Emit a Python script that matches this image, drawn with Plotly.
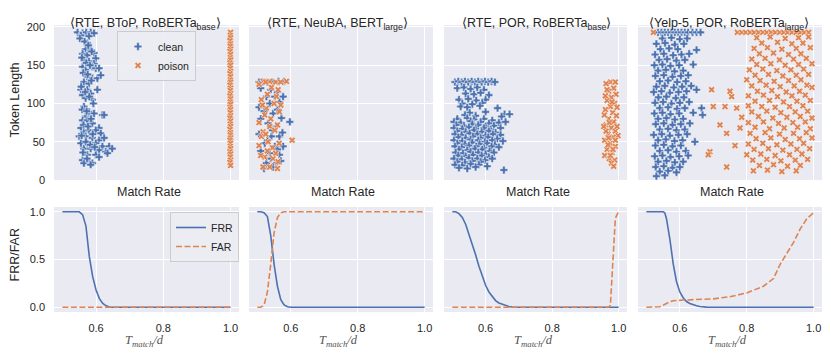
import plotly.graph_objects as go
from plotly.subplots import make_subplots

BLUE = "#4C72B0"
ORANGE = "#DD8452"
FONT = "Liberation Sans, Arial, sans-serif"

titles = ["⟨RTE, BToP, RoBERTa<sub>base</sub>⟩",
          "⟨RTE, NeuBA, BERT<sub>large</sub>⟩",
          "⟨RTE, POR, RoBERTa<sub>base</sub>⟩",
          "⟨Yelp-5, POR, RoBERTa<sub>large</sub>⟩"]

# (match rate, token length)
p1_clean = [(0.545, 193), (0.560, 192), (0.571, 193), (0.584, 193), (0.594, 192), (0.555, 189), (0.579, 188),
            (0.574, 179), (0.569, 171), (0.584, 170), (0.594, 166), (0.560, 165), (0.574, 163), (0.599, 159),
            (0.564, 157), (0.579, 155), (0.594, 152), (0.560, 148), (0.589, 148), (0.569, 144), (0.599, 146),
            (0.609, 146), (0.574, 135), (0.589, 133), (0.604, 133), (0.614, 137), (0.564, 128), (0.579, 126),
            (0.555, 118), (0.574, 118), (0.604, 118), (0.560, 111), (0.584, 113), (0.569, 107), (0.589, 105),
            (0.564, 96), (0.579, 89), (0.594, 87), (0.569, 83), (0.560, 78), (0.619, 85), (0.624, 85),
            (0.574, 78), (0.589, 74), (0.609, 68), (0.555, 68), (0.564, 63), (0.579, 65), (0.599, 65),
            (0.614, 61), (0.550, 57), (0.569, 57), (0.589, 55), (0.609, 52), (0.624, 55), (0.555, 48),
            (0.574, 48), (0.599, 48), (0.619, 44), (0.639, 44), (0.648, 41), (0.564, 41), (0.584, 41),
            (0.609, 39), (0.629, 37), (0.634, 35), (0.574, 33), (0.599, 33), (0.560, 26), (0.579, 24),
            (0.589, 22), (0.609, 30), (0.564, 22), (0.584, 20), (0.552, 185), (0.566, 181), (0.577, 176),
            (0.587, 168), (0.558, 160), (0.571, 153), (0.582, 150), (0.562, 140), (0.575, 138), (0.586, 130),
            (0.556, 122), (0.568, 115), (0.580, 109), (0.592, 100), (0.559, 92), (0.572, 90), (0.585, 80),
            (0.563, 72), (0.576, 70), (0.590, 60), (0.557, 58), (0.570, 50), (0.583, 46), (0.596, 43),
            (0.561, 36), (0.573, 28)]
p1_poison = [(1.0, 193), (0.999, 189), (1.0, 186), (0.998, 182), (1.0, 178), (0.999, 175), (1.0, 171),
             (0.998, 168), (1.0, 164), (0.999, 160), (1.0, 157), (0.998, 153), (1.0, 150), (0.999, 146),
             (1.0, 142), (0.998, 139), (1.0, 135), (0.999, 131), (1.0, 128), (0.998, 124), (1.0, 120),
             (0.999, 117), (1.0, 113), (0.998, 110), (1.0, 106), (0.999, 102), (1.0, 99), (0.998, 95),
             (1.0, 92), (0.999, 88), (1.0, 84), (0.998, 81), (1.0, 77), (0.999, 73), (1.0, 70),
             (0.998, 66), (1.0, 62), (0.999, 59), (1.0, 55), (0.998, 52), (1.0, 48), (0.999, 44),
             (1.0, 41), (0.998, 37), (1.0, 34), (0.999, 30), (1.0, 26), (0.998, 23), (1.0, 19)]

p2_clean = [(0.563, 129), (0.580, 129), (0.527, 109), (0.552, 109), (0.577, 109), (0.537, 100), (0.566, 102),
            (0.547, 87), (0.572, 81), (0.597, 76), (0.532, 74), (0.557, 70), (0.542, 57), (0.566, 57),
            (0.522, 48), (0.552, 44), (0.577, 44), (0.537, 35), (0.566, 33), (0.527, 22), (0.557, 22),
            (0.547, 17), (0.505, 128), (0.515, 128), (0.530, 128), (0.545, 128), (0.510, 120), (0.540, 118),
            (0.560, 115), (0.505, 95), (0.520, 90), (0.560, 92), (0.510, 80), (0.545, 65), (0.575, 62),
            (0.505, 60), (0.530, 52), (0.560, 40), (0.510, 38), (0.540, 28), (0.570, 25), (0.520, 15)]
p2_poison = [(0.517, 129), (0.537, 129), (0.587, 129), (0.542, 121), (0.562, 118), (0.512, 105), (0.557, 109),
             (0.527, 94), (0.522, 85), (0.566, 89), (0.537, 70), (0.517, 63), (0.552, 65), (0.512, 57),
             (0.604, 52), (0.532, 50), (0.522, 30), (0.547, 28), (0.517, 17), (0.537, 17), (0.562, 24),
             (0.505, 125), (0.525, 128), (0.555, 128), (0.570, 128), (0.530, 112), (0.550, 100), (0.515, 98),
             (0.570, 98), (0.540, 80), (0.505, 75), (0.560, 72), (0.525, 60), (0.505, 45), (0.545, 42),
             (0.565, 48), (0.510, 32), (0.530, 38), (0.555, 35), (0.560, 15)]

p3_clean = [(0.508, 128), (0.518, 129), (0.528, 128), (0.538, 129), (0.548, 128), (0.558, 129), (0.568, 128),
            (0.578, 129), (0.588, 128), (0.598, 129), (0.608, 128), (0.618, 129), (0.628, 128),
            (0.515, 120), (0.535, 121), (0.555, 119), (0.575, 121), (0.595, 118), (0.540, 113), (0.565, 112),
            (0.585, 114), (0.610, 111), (0.520, 105), (0.548, 106), (0.572, 104), (0.600, 105), (0.530, 100),
            (0.560, 99), (0.590, 101), (0.525, 96), (0.545, 95), (0.583, 97), (0.636, 94), (0.552, 88),
            (0.600, 89), (0.538, 85), (0.570, 84), (0.657, 86), (0.672, 86), (0.648, 83), (0.515, 80),
            (0.545, 81), (0.565, 79), (0.595, 80), (0.620, 78), (0.505, 76), (0.525, 75), (0.555, 77),
            (0.585, 76), (0.610, 74), (0.640, 75), (0.660, 76), (0.512, 72), (0.535, 71), (0.560, 73),
            (0.578, 72), (0.600, 70), (0.625, 71), (0.505, 68), (0.530, 67), (0.550, 69), (0.570, 67),
            (0.595, 68), (0.615, 66), (0.645, 68), (0.515, 64), (0.540, 63), (0.565, 65), (0.588, 63),
            (0.610, 64), (0.630, 62), (0.508, 60), (0.528, 59), (0.552, 61), (0.575, 60), (0.600, 58),
            (0.622, 60), (0.645, 59), (0.518, 56), (0.540, 55), (0.562, 57), (0.585, 55), (0.608, 56),
            (0.635, 54), (0.505, 52), (0.530, 51), (0.555, 53), (0.578, 52), (0.598, 50), (0.620, 52),
            (0.652, 51), (0.515, 48), (0.538, 47), (0.560, 49), (0.582, 47), (0.605, 48), (0.628, 46),
            (0.508, 44), (0.528, 43), (0.550, 45), (0.572, 44), (0.595, 42), (0.618, 44), (0.640, 43),
            (0.520, 40), (0.545, 39), (0.568, 41), (0.590, 40), (0.612, 38), (0.510, 36), (0.532, 35),
            (0.555, 37), (0.578, 36), (0.600, 34), (0.625, 36), (0.518, 32), (0.540, 31), (0.562, 33),
            (0.588, 32), (0.610, 30), (0.505, 28), (0.528, 27), (0.550, 29), (0.575, 28), (0.598, 26),
            (0.620, 28), (0.515, 24), (0.538, 23), (0.560, 25), (0.585, 24), (0.508, 20), (0.530, 19),
            (0.555, 21), (0.580, 20), (0.605, 18), (0.520, 16), (0.545, 15), (0.570, 17), (0.655, 13)]
p3_poison = [(0.975, 128), (0.990, 128), (0.962, 126), (0.985, 120), (0.970, 116), (0.992, 112), (0.978, 108),
             (0.965, 104), (0.988, 100), (0.975, 96), (0.960, 92), (0.982, 88), (0.993, 84), (0.970, 80),
             (0.985, 76), (0.962, 72), (0.978, 68), (0.990, 64), (0.998, 58), (0.968, 60), (0.983, 56),
             (0.958, 52), (0.975, 48), (0.990, 44), (0.965, 40), (0.980, 36), (0.958, 32), (0.972, 28),
             (0.988, 26), (0.978, 22), (0.985, 18), (0.960, 110), (0.995, 95), (0.957, 85), (0.972, 75),
             (0.962, 64), (0.990, 52), (0.968, 46), (0.983, 40), (0.975, 32), (0.965, 118), (0.980, 102),
             (0.955, 70), (0.995, 70), (0.970, 55)]

p4_clean = [(0.535, 193), (0.545, 193), (0.555, 193), (0.565, 193), (0.575, 193), (0.585, 193), (0.595, 193),
            (0.605, 193), (0.615, 193), (0.625, 193), (0.638, 193), (0.650, 193), (0.662, 193),
            (0.548, 185), (0.575, 186), (0.600, 184), (0.622, 185), (0.530, 178), (0.556, 179), (0.585, 177),
            (0.612, 178), (0.542, 171), (0.568, 172), (0.594, 171), (0.650, 170), (0.526, 164), (0.552, 165),
            (0.580, 163), (0.605, 164), (0.628, 165), (0.538, 157), (0.562, 158), (0.590, 156), (0.615, 157),
            (0.524, 150), (0.548, 151), (0.572, 149), (0.598, 150), (0.640, 151), (0.535, 143), (0.558, 144),
            (0.584, 142), (0.610, 143), (0.527, 136), (0.552, 137), (0.578, 135), (0.603, 136), (0.625, 137),
            (0.540, 129), (0.565, 130), (0.592, 128), (0.618, 129), (0.530, 122), (0.555, 123), (0.582, 121),
            (0.607, 122), (0.634, 123), (0.650, 118), (0.522, 115), (0.545, 116), (0.570, 114), (0.596, 115),
            (0.620, 116), (0.536, 108), (0.560, 109), (0.588, 107), (0.612, 108), (0.526, 101), (0.550, 102),
            (0.575, 100), (0.600, 101), (0.628, 102), (0.540, 94), (0.565, 95), (0.592, 93), (0.615, 94),
            (0.665, 94), (0.524, 87), (0.548, 88), (0.572, 86), (0.598, 87), (0.640, 88), (0.668, 85),
            (0.535, 80), (0.560, 81), (0.585, 79), (0.610, 80), (0.528, 73), (0.552, 74), (0.578, 72),
            (0.603, 73), (0.630, 74), (0.540, 66), (0.565, 67), (0.590, 65), (0.615, 66), (0.522, 59),
            (0.546, 60), (0.570, 58), (0.596, 59), (0.622, 60), (0.535, 52), (0.558, 53), (0.584, 51),
            (0.608, 52), (0.645, 50), (0.527, 45), (0.552, 46), (0.578, 44), (0.603, 45), (0.540, 38),
            (0.565, 39), (0.590, 37), (0.618, 38), (0.525, 31), (0.548, 32), (0.572, 30), (0.598, 31),
            (0.625, 32), (0.535, 24), (0.560, 25), (0.585, 23), (0.610, 24), (0.528, 17), (0.552, 18),
            (0.578, 16), (0.600, 17), (0.540, 11), (0.565, 12), (0.590, 10), (0.530, 5), (0.555, 6)]
p4_poison = [(0.521, 193), (0.772, 193), (0.785, 193), (0.797, 193), (0.810, 193), (0.822, 193), (0.835, 193),
             (0.848, 193), (0.860, 193), (0.873, 193), (0.885, 193), (0.898, 193), (0.910, 193), (0.922, 193),
             (0.935, 193), (0.948, 193), (0.960, 193), (0.972, 193), (0.985, 193),
             (0.830, 186), (0.870, 187), (0.915, 185), (0.955, 186), (0.985, 187), (0.845, 179), (0.892, 180),
             (0.935, 178), (0.968, 179), (0.822, 172), (0.862, 173), (0.905, 171), (0.948, 172), (0.990, 173),
             (0.838, 165), (0.880, 166), (0.925, 164), (0.962, 165), (0.815, 158), (0.855, 159), (0.898, 157),
             (0.940, 158), (0.978, 159), (0.830, 151), (0.872, 152), (0.915, 150), (0.955, 151), (0.995, 152),
             (0.808, 144), (0.848, 145), (0.890, 143), (0.932, 144), (0.970, 145), (0.825, 137), (0.865, 138),
             (0.908, 136), (0.948, 137), (0.985, 138), (0.800, 131), (0.840, 130), (0.882, 129), (0.925, 130),
             (0.962, 131), (0.815, 123), (0.858, 124), (0.900, 122), (0.942, 123), (0.980, 124), (0.995, 121),
             (0.695, 118), (0.750, 116), (0.832, 116), (0.875, 117), (0.918, 115), (0.958, 116), (0.755, 109),
             (0.805, 110), (0.850, 111), (0.892, 109), (0.935, 110), (0.975, 111), (0.825, 103), (0.868, 104),
             (0.910, 102), (0.950, 103), (0.990, 104), (0.700, 96), (0.735, 96), (0.770, 94), (0.805, 97),
             (0.845, 96), (0.885, 95), (0.928, 96), (0.968, 97), (0.815, 89), (0.860, 90), (0.902, 88),
             (0.945, 89), (0.982, 90), (0.785, 82), (0.835, 83), (0.878, 81), (0.920, 82), (0.960, 83),
             (0.995, 81), (0.805, 75), (0.850, 76), (0.895, 74), (0.938, 75), (0.975, 76), (0.720, 72),
             (0.780, 68), (0.825, 69), (0.868, 67), (0.912, 68), (0.952, 69), (0.990, 67), (0.740, 61),
             (0.810, 61), (0.855, 62), (0.898, 60), (0.940, 61), (0.978, 62), (0.828, 54), (0.872, 55),
             (0.915, 53), (0.958, 54), (0.995, 55), (0.765, 45), (0.805, 47), (0.848, 48), (0.890, 46),
             (0.932, 47), (0.970, 48), (0.822, 40), (0.865, 41), (0.908, 39), (0.950, 40), (0.988, 41),
             (0.690, 37), (0.685, 33), (0.800, 33), (0.842, 34), (0.885, 32), (0.928, 33), (0.965, 34),
             (0.818, 26), (0.860, 27), (0.902, 25), (0.945, 26), (0.982, 27), (0.838, 19), (0.880, 20),
             (0.922, 18), (0.960, 19), (0.740, 17), (0.820, 12), (0.862, 13), (0.905, 11), (0.948, 12)]

# FRR / FAR curves against T_match / d
t1 = [0.50, 0.51, 0.52, 0.53, 0.54, 0.55, 0.56, 0.57, 0.58, 0.59, 0.60, 0.61, 0.62, 0.63, 0.64, 0.65,
      0.70, 0.80, 0.90, 1.00]
frr1 = [1.0, 1.0, 1.0, 1.0, 1.0, 1.0, 0.97, 0.85, 0.53, 0.32, 0.18, 0.09, 0.04, 0.015, 0.003, 0.0,
        0.0, 0.0, 0.0, 0.0]
far1 = [0.0, 0.0, 0.0, 0.0, 0.0, 0.0, 0.0, 0.0, 0.0, 0.0, 0.0, 0.0, 0.0, 0.0, 0.0, 0.0,
        0.0, 0.0, 0.0, 0.0]

t2 = [0.50, 0.51, 0.52, 0.53, 0.54, 0.55, 0.56, 0.57, 0.58, 0.59, 0.60, 0.70, 0.80, 0.90, 1.00]
frr2 = [1.0, 1.0, 0.99, 0.95, 0.75, 0.45, 0.22, 0.08, 0.025, 0.005, 0.0, 0.0, 0.0, 0.0, 0.0]
far2 = [0.0, 0.0, 0.02, 0.16, 0.45, 0.78, 0.94, 0.99, 1.0, 1.0, 1.0, 1.0, 1.0, 1.0, 1.0]

t3 = [0.50, 0.51, 0.52, 0.53, 0.54, 0.55, 0.56, 0.57, 0.58, 0.59, 0.60, 0.61, 0.62, 0.63, 0.64, 0.65,
      0.66, 0.67, 0.68, 0.70, 0.80, 0.90, 0.96, 0.97, 0.975, 0.98, 0.985, 0.99, 0.995, 1.00]
frr3 = [1.0, 1.0, 0.98, 0.94, 0.87, 0.77, 0.66, 0.55, 0.43, 0.32, 0.23, 0.16, 0.11, 0.07, 0.045, 0.03,
        0.015, 0.007, 0.002, 0.0, 0.0, 0.0, 0.0, 0.0, 0.0, 0.0, 0.0, 0.0, 0.0, 0.0]
far3 = [0.0, 0.0, 0.0, 0.0, 0.0, 0.0, 0.0, 0.0, 0.0, 0.0, 0.0, 0.0, 0.0, 0.0, 0.0, 0.0,
        0.0, 0.0, 0.0, 0.0, 0.0, 0.0, 0.0, 0.0, 0.02, 0.3, 0.7, 0.93, 0.97, 1.0]

t4 = [0.50, 0.53, 0.54, 0.55, 0.555, 0.56, 0.57, 0.58, 0.59, 0.60, 0.61, 0.62, 0.63, 0.64, 0.65, 0.66,
      0.67, 0.68, 0.70, 0.75, 0.80, 0.85, 0.88, 0.90, 0.92, 0.94, 0.96, 0.98, 1.00]
frr4 = [1.0, 1.0, 1.0, 1.0, 0.99, 0.93, 0.72, 0.46, 0.27, 0.16, 0.10, 0.06, 0.04, 0.025, 0.015, 0.008,
        0.004, 0.001, 0.0, 0.0, 0.0, 0.0, 0.0, 0.0, 0.0, 0.0, 0.0, 0.0, 0.0]
far4 = [0.0, 0.0, 0.005, 0.02, 0.03, 0.04, 0.058, 0.068, 0.072, 0.074, 0.075, 0.076, 0.077, 0.078, 0.079,
        0.08, 0.082, 0.084, 0.088, 0.11, 0.15, 0.22, 0.30, 0.45, 0.56, 0.68, 0.82, 0.93, 0.99]

panels = [(p1_clean, p1_poison, t1, frr1, far1),
          (p2_clean, p2_poison, t2, frr2, far2),
          (p3_clean, p3_poison, t3, frr3, far3),
          (p4_clean, p4_poison, t4, frr4, far4)]

# the page body has an 8px margin, so the figure is shrunk by it on every side
PAD = 8
W, H = 831 - 2 * PAD, 358 - 2 * PAD


def fx(px):
    return (px - PAD) / W


def fy(py):
    return 1 - (py - PAD) / H


x_px = [(54, 239), (249, 433), (444, 627), (638, 822)]
title_left = [68, 265, 460, 647]
top_px = (25, 180)
bot_px = (207, 312)

fig = make_subplots(rows=2, cols=4)

for i, (clean, poison, t, frr, far) in enumerate(panels):
    col = i + 1
    first = i == 0
    fig.add_trace(go.Scatter(x=[p[0] for p in clean], y=[p[1] for p in clean], mode="markers", name="clean",
                             marker=dict(symbol="cross", size=6.5, color=BLUE, line=dict(color="white", width=0.5)),
                             showlegend=first, legend="legend"), row=1, col=col)
    fig.add_trace(go.Scatter(x=[p[0] for p in poison], y=[p[1] for p in poison], mode="markers", name="poison",
                             marker=dict(symbol="x", size=6, color=ORANGE, line=dict(color="white", width=0.5)),
                             showlegend=first, legend="legend"), row=1, col=col)
    fig.add_trace(go.Scatter(x=t, y=frr, mode="lines", name="FRR", line=dict(color=BLUE, width=1.6),
                             showlegend=first, legend="legend2"), row=2, col=col)
    fig.add_trace(go.Scatter(x=t, y=far, mode="lines", name="FAR",
                             line=dict(color=ORANGE, width=1.6, dash="6px,2.5px"),
                             showlegend=first, legend="legend2"), row=2, col=col)

    dom = [fx(x_px[i][0]), fx(x_px[i][1])]
    xa_top = "xaxis" if col == 1 else f"xaxis{col}"
    ya_top = "yaxis" if col == 1 else f"yaxis{col}"
    xa_bot = f"xaxis{col + 4}"
    ya_bot = f"yaxis{col + 4}"
    common_x = dict(domain=dom, range=[0.475, 1.025], dtick=0.2, tick0=0, showgrid=True, gridcolor="white",
                    gridwidth=1, zeroline=False, showline=False, ticks="", automargin=False)
    fig.layout[xa_top].update(showticklabels=False, **common_x)
    fig.layout[xa_bot].update(showticklabels=True, tickformat=".1f", ticklabelstandoff=8, **common_x)
    fig.layout[ya_top].update(domain=[fy(top_px[1]), fy(top_px[0])], range=[0, 202.6], dtick=50,
                              showgrid=True, gridcolor="white", gridwidth=1, zeroline=False, ticks="",
                              showticklabels=first, ticklabelstandoff=8, automargin=False)
    fig.layout[ya_bot].update(domain=[fy(bot_px[1]), fy(bot_px[0])], range=[-0.05, 1.05], dtick=0.5,
                              tickformat=".1f", showgrid=True, gridcolor="white", gridwidth=1, zeroline=False,
                              ticks="", showticklabels=first, ticklabelstandoff=8, automargin=False)

    cx = (x_px[i][0] + x_px[i][1]) / 2
    fig.add_annotation(text=titles[i], x=fx(title_left[i]), y=fy(14), xanchor="left", xref="paper",
                       yref="paper", showarrow=False, font=dict(size=12.5, color="#262626"))
    fig.add_annotation(text="Match Rate", x=fx(cx - 32), y=fy(192), xanchor="left", xref="paper",
                       yref="paper", showarrow=False, font=dict(size=12.5, color="#262626"))
    fig.add_annotation(text="<i>T<sub>match</sub>/d</i>", x=fx(cx - 24), y=fy(351), xanchor="left",
                       xref="paper", yref="paper", showarrow=False,
                       font=dict(size=12.5, color="#555555", family="Liberation Serif, serif"))

fig.add_annotation(text="Token Length", x=fx(5), y=fy(140), xanchor="left", yanchor="bottom", xref="paper",
                   yref="paper", showarrow=False, textangle=-90, font=dict(size=12.5, color="#262626"))
fig.add_annotation(text="FRR/FAR", x=fx(5), y=fy(284), xanchor="left", yanchor="bottom", xref="paper",
                   yref="paper", showarrow=False, textangle=-90, font=dict(size=12.5, color="#262626"))

legend_style = dict(bgcolor="rgba(236,236,243,0.9)", bordercolor="#CCCCCC", borderwidth=1,
                    font=dict(size=10.5, color="#262626"), xanchor="left", yanchor="top", tracegroupgap=0)
fig.update_layout(
    width=W, height=H,
    margin=dict(l=0, r=0, t=0, b=0),
    paper_bgcolor="white", plot_bgcolor="#EAEAF2",
    font=dict(family=FONT, size=11, color="#262626"),
    legend=dict(x=fx(117), y=fy(31), **legend_style),
    legend2=dict(x=fx(170), y=fy(212), **legend_style),
)

fig.write_html("out.html")
